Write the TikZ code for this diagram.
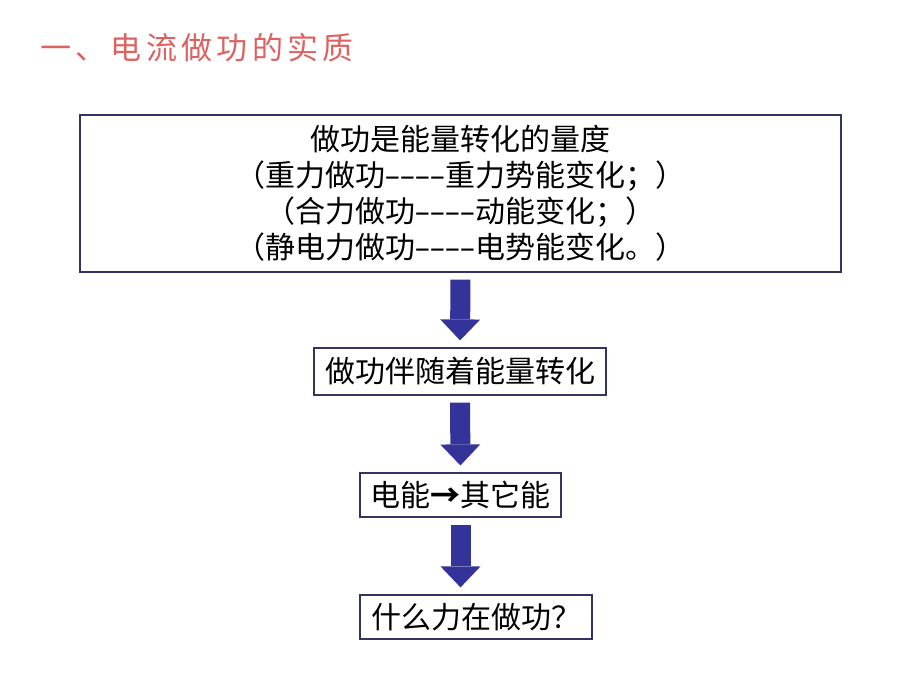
\documentclass[tikz,border=0pt]{standalone}
\usepackage{fontspec}
\setmainfont{Noto Sans CJK SC}[Ligatures=TeXOff]
\usetikzlibrary{arrows.meta}
\definecolor{titlered}{HTML}{DE6262}
\definecolor{boxline}{HTML}{34345E}
\definecolor{arrowblue}{HTML}{333399}
\newcommand\hy{\makebox[15pt]{\scalebox{1.6}[1]{-}}}

\begin{document}
\begin{tikzpicture}[x=1pt,y=-1pt,
  box/.style={draw=boxline, line width=1.2pt, inner sep=0pt, align=center, font=\fontsize{30}{36}\selectfont},
  down/.style={arrowblue, line width=20pt, shorten <=7pt, shorten >=7pt,
    -{Triangle[width=40pt,length=21pt,line width=0pt]}}]
\useasboundingbox (0,0) rectangle (920,690);
\node [anchor=west, inner sep=0pt, text=titlered, font=\fontsize{31}{32}\selectfont\addfontfeature{LetterSpace=14}] (title) at (40,48) {一、电流做功的实质};
\node [box, minimum width=761pt, minimum height=157pt] (measure) at (460.5,193.5)
  {做功是能量转化的量度\\（重力做功\hy\hy\hy\hy 重力势能变化；）\\（合力做功\hy\hy\hy\hy 动能变化；）\\（静电力做功\hy\hy\hy\hy 电势能变化。）};
\node [box, minimum width=292pt, minimum height=47pt] (conv) at (460,371.5) {做功伴随着能量转化};
\node [box, minimum width=201pt, minimum height=44pt] (elec) at (460.5,495) {电能\textbf{→}其它能};
\node [box, minimum width=232pt, minimum height=44pt] (ask) at (476,617) {什么力在做功？};
\draw [down] (measure.south) -- (conv.north);
\draw [down] (conv.south) -- (elec.north);
\draw [down] (elec.south) -- (elec.south |- ask.north);
\end{tikzpicture}
\end{document}
